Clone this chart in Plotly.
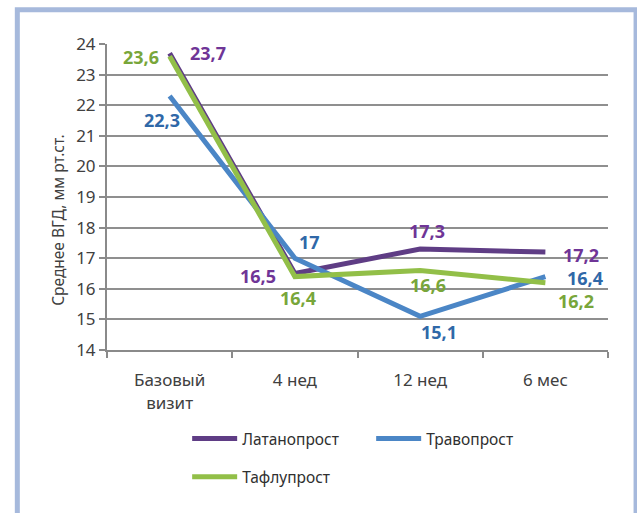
import plotly.graph_objects as go

# Mean IOP (mm Hg) by visit for three prostaglandin analogues
visits = ["Базовый<br>визит", "4 нед", "12 нед", "6 мес"]
latanoprost = [23.7, 16.5, 17.3, 17.2]
travoprost = [22.3, 17.0, 15.1, 16.4]
tafluprost = [23.6, 16.4, 16.6, 16.2]

series = [
    ("Латанопрост", latanoprost, "#5f3d85", "#6f3597", "legend"),
    ("Травопрост", travoprost, "#4b86c6", "#2f68a8", "legend"),
    ("Тафлупрост", tafluprost, "#92bf48", "#78a63a", "legend2"),
]

# pixel offsets of each value label relative to its point
label_shifts = {
    "Латанопрост": [(38, 0), (-37, -2), (7, 18), (36, -3)],
    "Травопрост": [(-8, -24), (15, 16), (19, -16), (40, -1)],
    "Тафлупрост": [(-29, -1), (3, -21), (8, -15), (31, -18)],
}

FONT = "Noto Sans"
fig = go.Figure()
annotations = []
for name, vals, line_col, text_col, leg in series:
    fig.add_trace(go.Scatter(
        x=visits, y=vals, mode="lines", name=name,
        line=dict(color=line_col, width=5),
        legend=leg,
    ))
    for xv, yv, (dx, dy) in zip(visits, vals, label_shifts[name]):
        txt = f"{yv:g}".replace(".", ",")
        annotations.append(dict(
            x=xv, y=yv, text=f"<b>{txt}</b>", showarrow=False,
            xshift=dx, yshift=dy,
            font=dict(family=FONT, size=18, color=text_col),
        ))

# vertical y-axis title
annotations.append(dict(
    text="Среднее ВГД, мм рт.ст.", textangle=-90, showarrow=False,
    xref="paper", yref="paper", x=-0.098, y=0.425,
    xanchor="center", yanchor="middle",
    font=dict(family=FONT, size=15.5, color="#404040"),
))

# light blue frame around the figure
frame = [dict(
    type="rect", xref="paper", yref="paper",
    x0=-0.179, x1=1.056, y0=-0.56, y1=1.112,
    line=dict(color="#a6b9dc", width=5), fillcolor="rgba(0,0,0,0)",
    layer="below",
)]

fig.update_layout(
    width=637, height=513,
    margin=dict(l=107, r=29, t=44, b=163),
    paper_bgcolor="white", plot_bgcolor="white",
    font=dict(family=FONT, size=15, color="#404040"),
    showlegend=True,
    annotations=annotations,
    shapes=frame,
    legend=dict(
        orientation="h", x=0.16, xanchor="left", y=-0.235, yanchor="top",
        entrywidth=124, itemwidth=45,
        font=dict(family=FONT, size=15.5, color="#303030"),
        bgcolor="rgba(0,0,0,0)",
    ),
    legend2=dict(
        orientation="h", x=0.16, xanchor="left", y=-0.36, yanchor="top",
        itemwidth=45,
        font=dict(family=FONT, size=15.5, color="#303030"),
        bgcolor="rgba(0,0,0,0)",
    ),
)

fig.update_xaxes(
    type="category", range=[-0.5, 3.5], showgrid=False,
    showline=True, linecolor="#8a8a8a", linewidth=2,
    ticks="outside", tickson="boundaries", ticklen=6, tickcolor="#8a8a8a",
    tickwidth=2, ticklabelstandoff=14,
    tickfont=dict(family=FONT, size=17, color="#404040"),
)
fig.update_yaxes(
    range=[14, 24], dtick=1, tick0=14,
    showgrid=True, gridcolor="#8f8f8f", gridwidth=2,
    showline=True, linecolor="#8a8a8a", linewidth=2,
    ticks="outside", ticklen=6, tickcolor="#8a8a8a", tickwidth=2,
    tickfont=dict(family=FONT, size=17, color="#404040"),
    zeroline=False,
)

fig.write_html("out.html")
